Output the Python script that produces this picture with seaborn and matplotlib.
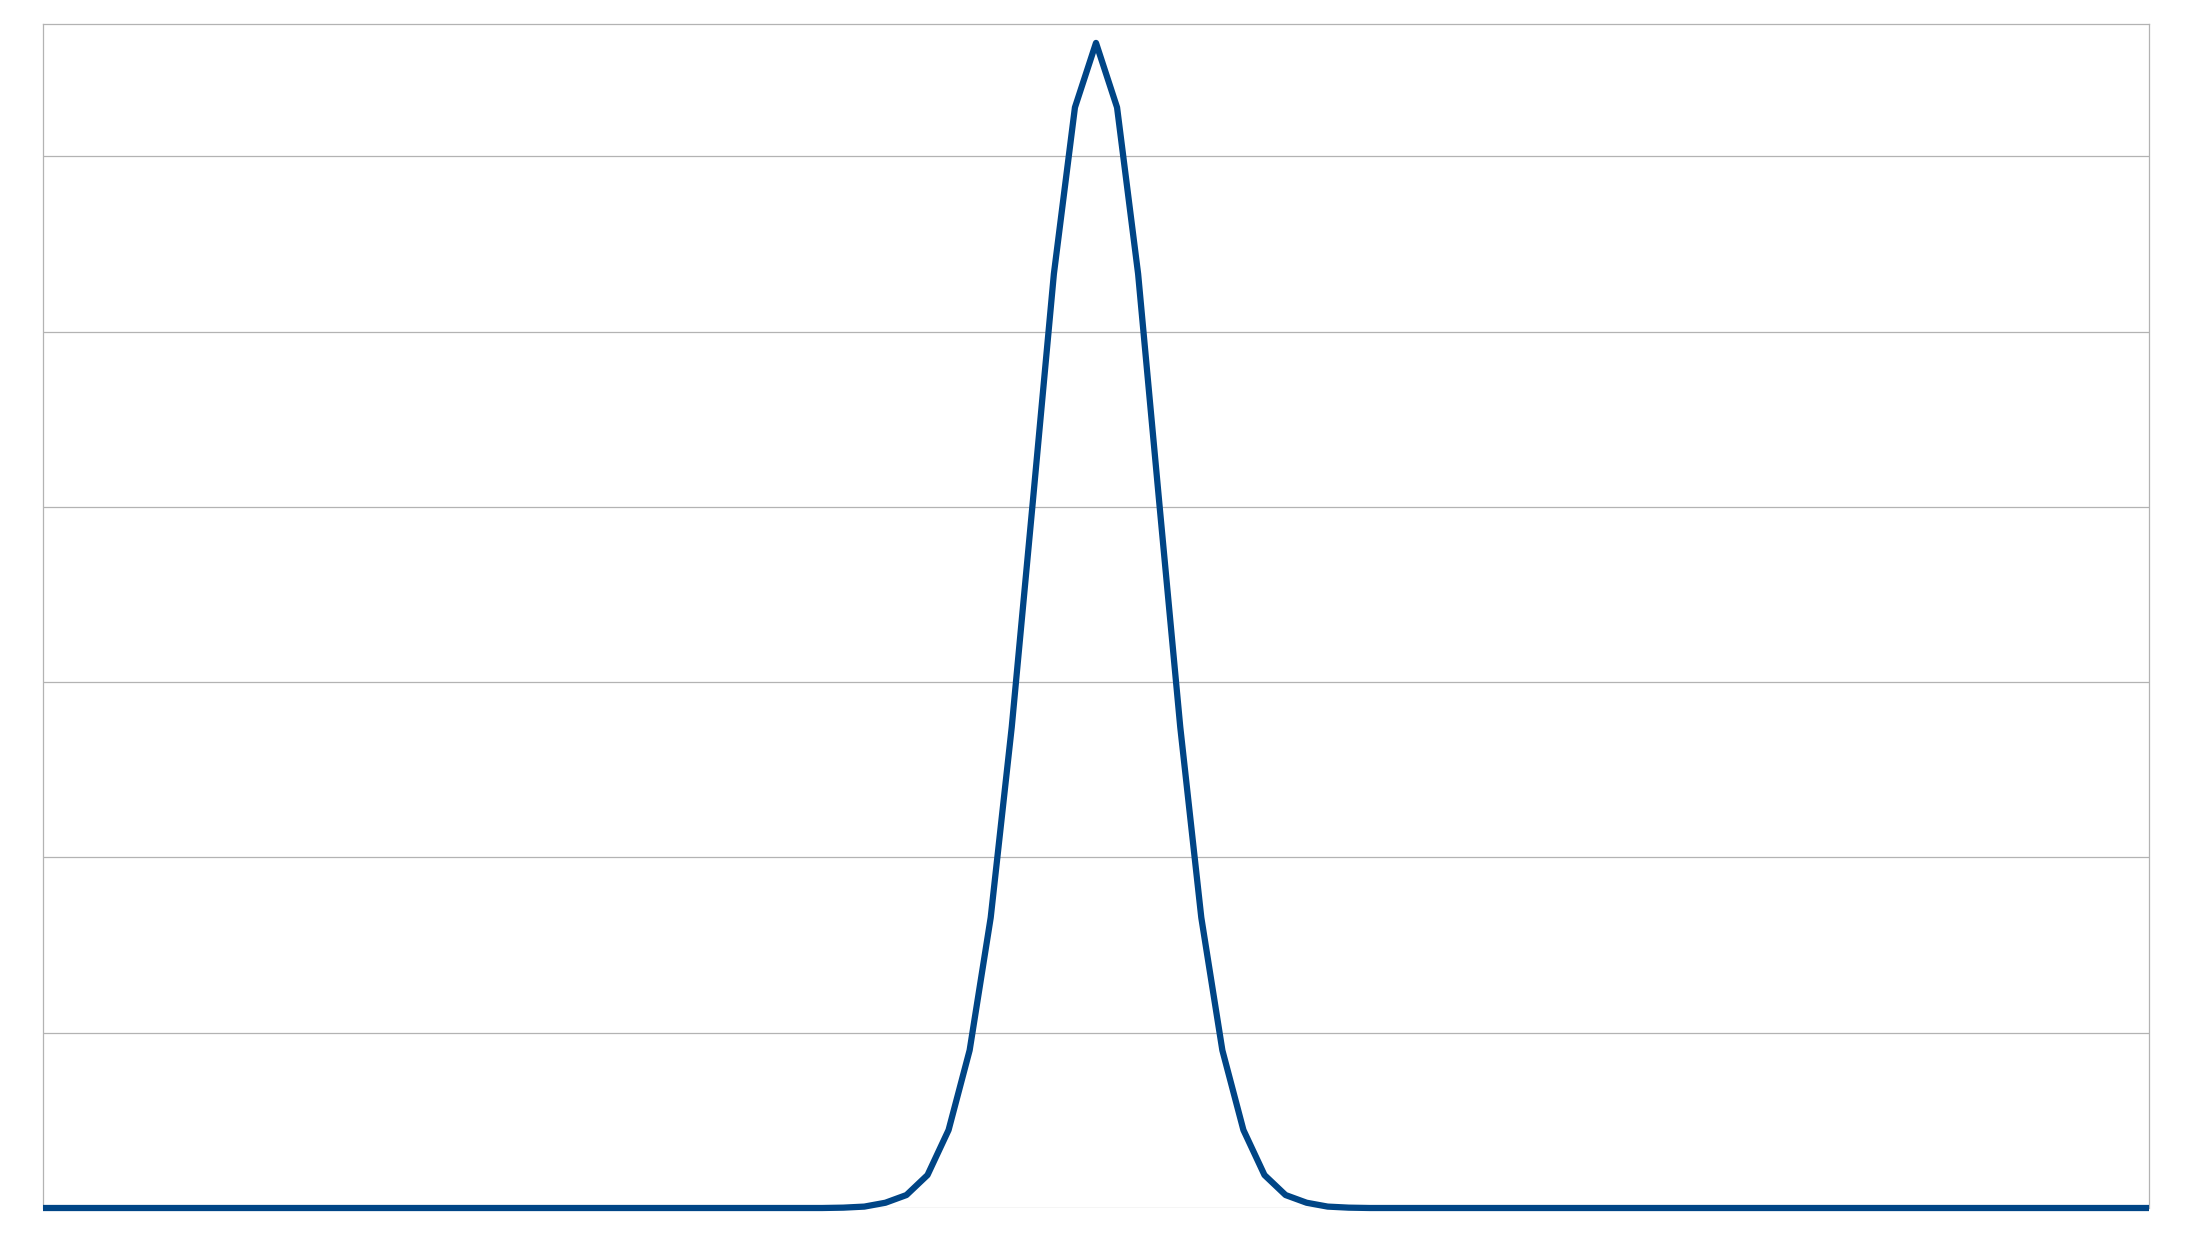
"""
Single bell-shaped series on a plain grid, no labels.
"""

import matplotlib
matplotlib.use("Agg")
import matplotlib.pyplot as plt
import seaborn as sns
import numpy as np
import pandas as pd

# values (grid step = 1 unit), 101 points
left_tail = [0.0] * 38
rise = [0.002, 0.008, 0.03, 0.074, 0.188, 0.445, 0.90, 1.657,
        2.745, 4.03, 5.33, 6.28]
peak = [6.648]
fall = [6.28, 5.33, 4.03, 2.745, 1.657, 0.90, 0.445, 0.188,
        0.074, 0.03, 0.008, 0.002]
right_tail = [0.0] * 38

values = left_tail + rise + peak + fall + right_tail
index = list(range(len(values)))

LINE_COLOR = "#004586"
GRID_COLOR = "#b3b3b3"

sns.set_style("white")

fig = plt.figure(figsize=(21.93, 12.33), dpi=100)
ax = fig.add_axes([43 / 2193, 1 - 1208 / 1233, (2149 - 43) / 2193, (1208 - 24) / 1233])

df = pd.DataFrame({"x": index, "y": values})

# horizontal grid
for yv in range(0, 7):
    ax.axhline(yv, color=GRID_COLOR, linewidth=0.9, zorder=1)

sns.lineplot(data=df, x="x", y="y", ax=ax, color=LINE_COLOR,
             linewidth=4.5, solid_joinstyle="round", solid_capstyle="butt",
             zorder=3)
for ln in ax.lines:
    if ln.get_color() == LINE_COLOR:
        ln.set_clip_on(False)

ax.set_xlim(0, len(values) - 1)
ax.set_ylim(0, 6.756)
ax.set_xticks([])
ax.set_yticks([])
ax.set_xlabel("")
ax.set_ylabel("")

for side in ["left", "right", "top"]:
    ax.spines[side].set_color(GRID_COLOR)
    ax.spines[side].set_linewidth(0.9)
ax.spines["bottom"].set_visible(False)

fig.savefig("out.png", dpi=100)
